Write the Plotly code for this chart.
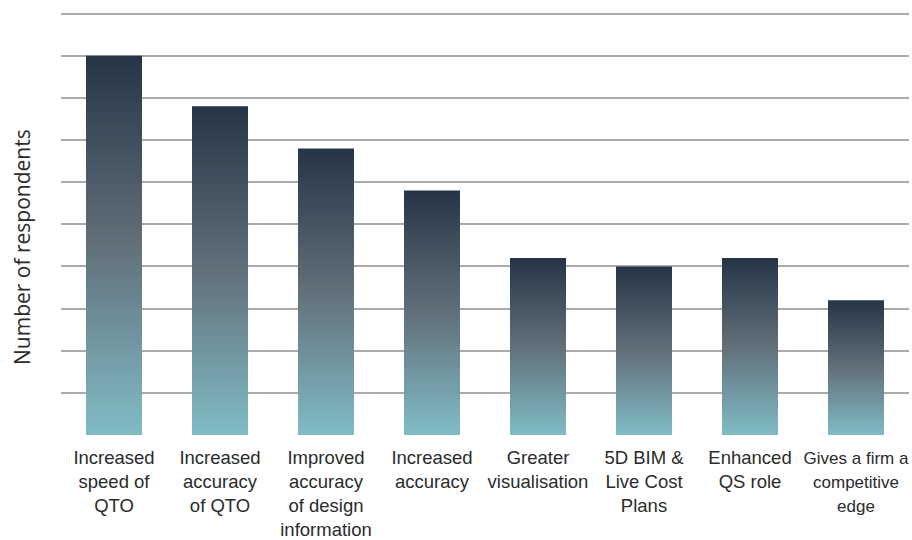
import plotly.graph_objects as go

categories = [
    "Increased<br>speed of<br>QTO",
    "Increased<br>accuracy<br>of QTO",
    "Improved<br>accuracy<br>of design<br>information",
    "Increased<br>accuracy",
    "Greater<br>visualisation",
    "5D BIM &<br>Live Cost<br>Plans",
    "Enhanced<br>QS role",
    "<span style=\"font-size:17px\">Gives a firm a<br>competitive<br>edge</span>",
]
values = [45, 39, 34, 29, 21, 20, 21, 16]
y_grid = [0, 5, 10, 15, 20, 25, 30, 35, 40, 45, 50]

# gradient stops (fraction from top, rgb)
stops = [(0.0, (38, 54, 70)), (0.5, (98, 112, 122)), (1.0, (128, 187, 196))]
N = 80


def grad(t):
    for (t0, c0), (t1, c1) in zip(stops[:-1], stops[1:]):
        if t <= t1:
            f = (t - t0) / (t1 - t0)
            return tuple(round(c0[i] + (c1[i] - c0[i]) * f) for i in range(3))
    return stops[-1][1]


x_idx = list(range(len(categories)))
fig = go.Figure()
for k in range(N):
    frac_h = (N - k) / N  # height fraction of this layer
    t = k / (N - 1)  # 0 -> top color, 1 -> bottom color
    c = grad(t)
    fig.add_trace(go.Bar(
        x=x_idx,
        y=[v * frac_h for v in values],
        marker=dict(color="rgb(%d,%d,%d)" % c, line=dict(width=0)),
        hoverinfo="skip",
        showlegend=False,
    ))

fig.update_layout(
    barmode="overlay",
    bargap=1 - 56 / 106,
    width=912,
    height=540,
    margin=dict(l=61, r=3, t=11, b=105, autoexpand=False),
    plot_bgcolor="white",
    paper_bgcolor="white",
    font=dict(family="Liberation Sans, Arial, sans-serif", size=18.5, color="#2b2b2b"),
    xaxis=dict(
        tickmode="array",
        tickvals=x_idx,
        ticktext=categories,
        showgrid=False,
        showline=False,
        zeroline=False,
        ticks="outside",
        ticklen=6,
        tickcolor="rgba(0,0,0,0)",
        automargin=False,
        range=[-0.5, len(categories) - 0.5],
    ),
    yaxis=dict(
        range=[0, 50.3],
        tickmode="array",
        tickvals=y_grid,
        showticklabels=False,
        showgrid=True,
        gridcolor="#aaaaaa",
        gridwidth=1.5,
        zeroline=False,
        showline=False,
        automargin=False,
    ),
    annotations=[dict(
        text="Number of respondents",
        xref="paper", yref="paper",
        x=-(61 - 22.5) / 848, y=(435 - 247.5) / 424,
        xanchor="center", yanchor="middle",
        textangle=-90,
        showarrow=False,
        font=dict(family="Open Sans, sans-serif", size=21, color="#2b2b2b"),
    )],
)

fig.write_html("out.html")
